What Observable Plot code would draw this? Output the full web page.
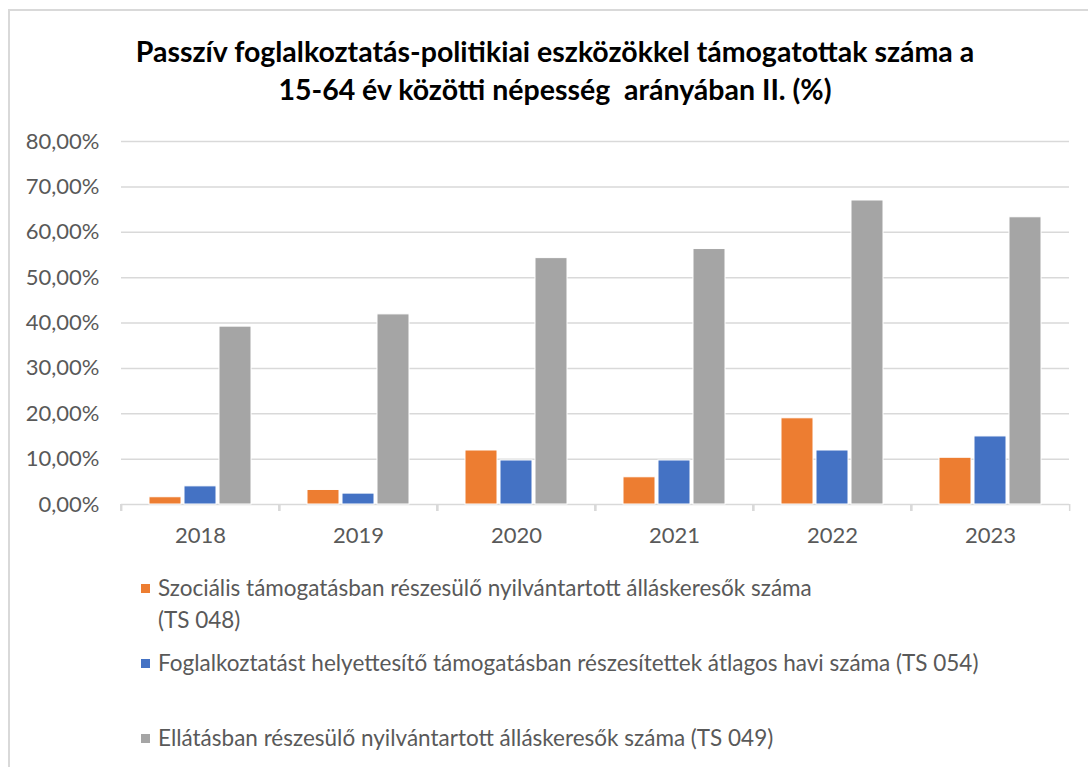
<!DOCTYPE html>
<html>
<head>
<meta charset="utf-8">
<script src="https://cdn.jsdelivr.net/npm/d3@7"></script>
<script src="https://cdn.jsdelivr.net/npm/@observablehq/plot@0.6"></script>
<style>
  html, body { margin: 0; padding: 0; background: #fff; }
  #wrap { position: relative; width: 1088px; height: 767px; overflow: hidden; font-family: Lato, "Open Sans", sans-serif; }
  #border { position: absolute; left: 8px; top: 9px; width: 1200px; height: 900px; border: 2px solid #d9d9d9; box-sizing: border-box; }
  #title { position: absolute; left: 0; width: 1110px; top: 32px; text-align: center; font-weight: bold; font-size: 28.5px; line-height: 38px; color: #000; }
  #chart { position: absolute; left: 0; top: 0; }
  #legend { position: absolute; left: 141px; top: 572px; color: #595959; font-size: 22.5px; }
  .item { position: relative; height: 75px; padding-left: 17px; line-height: 32px; white-space: nowrap; }
  .sw { position: absolute; left: 0; top: 12px; width: 9px; height: 9px; }
</style>
</head>
<body>
<div id="wrap">
  <div id="border"></div>
  <div id="chart"></div>
  <div id="title">Passzív foglalkoztatás-politikiai eszközökkel támogatottak száma a<br>15-64 év közötti népesség&nbsp; arányában II. (%)</div>
  <div id="legend"></div>
</div>
<script>
const years = ["2018", "2019", "2020", "2021", "2022", "2023"];
const series = [
  "Szociális támogatásban részesülő nyilvántartott álláskeresők száma (TS 048)",
  "Foglalkoztatást helyettesítő támogatásban részesítettek átlagos havi száma (TS 054)",
  "Ellátásban részesülő nyilvántartott álláskeresők száma (TS 049)"
];
const legendLines = [
  "Szociális támogatásban részesülő nyilvántartott álláskeresők száma<br>(TS 048)",
  "Foglalkoztatást helyettesítő támogatásban részesítettek átlagos havi száma (TS 054)",
  "Ellátásban részesülő nyilvántartott álláskeresők száma (TS 049)"
];
const ts048 = [0.016, 0.032, 0.119, 0.060, 0.190, 0.103];
const ts054 = [0.040, 0.024, 0.097, 0.097, 0.119, 0.150];
const ts049 = [0.392, 0.419, 0.543, 0.563, 0.670, 0.633];
const colors = ["#ED7D31", "#4472C4", "#A5A5A5"];
const yTicks = [0, 0.1, 0.2, 0.3, 0.4, 0.5, 0.6, 0.7, 0.8];

const values = [ts048, ts054, ts049];
const data = [];
years.forEach((y, i) => series.forEach((s, j) => data.push({year: y, series: s, value: values[j][i]})));

const W = 1088, H = 560, mL = 120, mR = 18, mT = 141, mB = 56;
const step = (W - mL - mR) / years.length;
const fmt = d => (d * 100).toFixed(2).replace(".", ",") + "%";

const plot = Plot.plot({
  width: W, height: H,
  marginLeft: mL, marginRight: mR, marginTop: mT, marginBottom: mB,
  style: {fontFamily: "Lato, 'Open Sans', sans-serif", background: "transparent"},
  fx: {domain: years, padding: 0, label: null},
  x: {domain: series, paddingInner: 0.1, paddingOuter: 0.78, axis: null, label: null},
  y: {domain: [0, 0.8], label: null},
  color: {domain: series, range: colors},
  marks: [
    Plot.gridY(yTicks.slice(1), {stroke: "#d9d9d9", strokeOpacity: 1, strokeWidth: 1.5}),
    Plot.ruleY([0], {stroke: "#d9d9d9", strokeWidth: 1.5}),
    Plot.barY(data, {fx: "year", x: "series", y: "value", fill: "series", stroke: "white", strokeWidth: 1}),
    Plot.axisY(yTicks, {tickSize: 0, tickPadding: 22, tickFormat: fmt, fontSize: 22, color: "#595959", label: null}),
    Plot.axisFx({anchor: "bottom", tickSize: 0, tickPadding: 23, fontSize: 22, color: "#595959", label: null}),
    Plot.axisFx(years, {anchor: "bottom", tickSize: 7, text: null, label: null, dx: -step / 2, stroke: "#d9d9d9", strokeWidth: 1.5}),
    Plot.axisFx(years.slice(-1), {anchor: "bottom", tickSize: 7, text: null, label: null, dx: step / 2, stroke: "#d9d9d9", strokeWidth: 1.5})
  ]
});
document.getElementById("chart").appendChild(plot);

const legend = document.getElementById("legend");
legendLines.forEach((t, i) => {
  const d = document.createElement("div");
  d.className = "item";
  d.innerHTML = `<span class="sw" style="background:${colors[i]}"></span>${t}`;
  legend.appendChild(d);
});
</script>
</body>
</html>
